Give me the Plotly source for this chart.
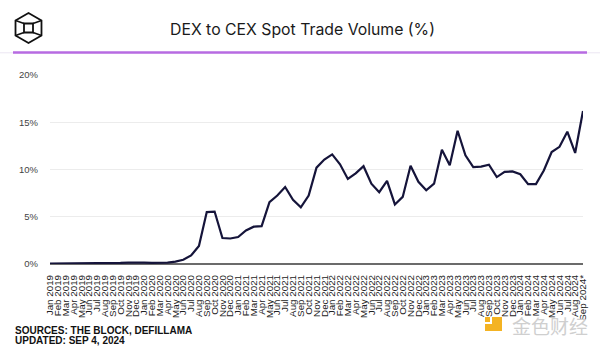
import math
import plotly.graph_objects as go

months = ["Jan", "Feb", "Mar", "Apr", "May", "Jun", "Jul", "Aug", "Sep", "Oct", "Nov", "Dec"]
labels = [f"{m} {y}" for y in range(2019, 2025) for m in months][:69]
labels[-1] = "Sep 2024*"

dex_cex_pct = [
    0.05, 0.05, 0.06, 0.07, 0.08, 0.08, 0.08, 0.09, 0.10, 0.12, 0.15, 0.17,   # 2019
    0.14, 0.12, 0.13, 0.15, 0.25, 0.45, 0.90, 1.90, 5.50, 5.55, 2.75, 2.70,   # 2020
    2.85, 3.55, 3.95, 4.00, 6.55, 7.25, 8.15, 6.80, 6.00, 7.25, 10.2, 11.05,  # 2021
    11.6, 10.55, 9.00, 9.60, 10.35, 8.50, 7.60, 8.80, 6.30, 7.10, 10.4, 8.70, # 2022
    7.80, 8.50, 12.1, 10.45, 14.1, 11.5, 10.25, 10.3, 10.5, 9.20, 9.75, 9.80, # 2023
    9.50, 8.45, 8.45, 9.90, 11.85, 12.4, 14.0, 11.75, 16.2,                   # 2024
]

y_ticks = [0, 5, 10, 15, 20]
y_tick_text = ["0%", "5%", "10%", "15%", "20%"]

W, H = 600, 350
L, R, T, B = 50, 17, 75, 86
pw, ph = W - L - R, H - T - B

def px(x):
    return (x - L) / pw

def py(y):
    return (H - B - y) / ph

fig = go.Figure()
fig.add_trace(go.Scatter(
    x=labels, y=dex_cex_pct, mode="lines",
    line=dict(color="#15143a", width=2.2),
    hoverinfo="skip",
))

shapes = []
# thin grey rule and purple header rule
shapes.append(dict(type="line", xref="paper", yref="paper", x0=px(0), x1=px(600), y0=py(52.8), y1=py(52.8),
                   line=dict(color="#ece6f2", width=1)))
shapes.append(dict(type="line", xref="paper", yref="paper", x0=px(13), x1=px(587), y0=py(52.5), y1=py(52.5),
                   line=dict(color="#b76be2", width=2.5)))

# logo: hexagon cube
cx, cy, r = 28.5, 28, 15
def hexpts(cx, cy, r):
    return [(cx + r * math.sin(math.radians(a)), cy - r * math.cos(math.radians(a))) for a in range(0, 360, 60)]
outer = hexpts(cx, cy, r)
path = "M " + " L ".join(f"{px(x):.5f},{py(y):.5f}" for x, y in outer) + " Z"
shapes.append(dict(type="path", xref="paper", yref="paper", path=path, line=dict(color="#111111", width=1.8)))
inner = [(cx - 4.5, cy - 4.5), (cx + 4.5, cy - 4.5), (cx + 4.5, cy + 4.5), (cx - 4.5, cy + 4.5)]
path2 = "M " + " L ".join(f"{px(x):.5f},{py(y):.5f}" for x, y in inner) + " Z"
shapes.append(dict(type="path", xref="paper", yref="paper", path=path2, line=dict(color="#111111", width=1.8)))
for (ox, oy), (ix, iy) in zip([outer[5], outer[1], outer[2], outer[4]], inner):
    shapes.append(dict(type="line", xref="paper", yref="paper", x0=px(ox), y0=py(oy), x1=px(ix), y1=py(iy),
                       line=dict(color="#111111", width=1.6)))
# watermark icon
shapes.append(dict(type="rect", xref="paper", yref="paper", x0=px(492), x1=px(502), y0=py(331), y1=py(317),
                   fillcolor="#f4b323", line=dict(width=0)))
shapes.append(dict(type="rect", xref="paper", yref="paper", x0=px(485), x1=px(492), y0=py(331), y1=py(324),
                   fillcolor="#f4b323", line=dict(width=0)))
shapes.append(dict(type="rect", xref="paper", yref="paper", x0=px(485), x1=px(490), y0=py(322), y1=py(317),
                   fillcolor="#f4b323", line=dict(width=0)))

annotations = [
    dict(text="DEX to CEX Spot Trade Volume (%)", xref="paper", yref="paper", x=px(302.5), y=py(29.5),
         showarrow=False, xanchor="center", yanchor="middle",
         font=dict(family="Inter, Liberation Sans, sans-serif", size=15.8, color="#1a1a1a")),
    dict(text="<b>SOURCES: THE BLOCK, DEFILLAMA</b>", xref="paper", yref="paper", x=px(13), y=py(330.5),
         showarrow=False, xanchor="left", yanchor="middle",
         font=dict(family="Liberation Sans, Arial, sans-serif", size=10, color="#111111")),
    dict(text="<b>UPDATED: SEP 4, 2024</b>", xref="paper", yref="paper", x=px(13), y=py(340.5),
         showarrow=False, xanchor="left", yanchor="middle",
         font=dict(family="Liberation Sans, Arial, sans-serif", size=10, color="#111111")),
    dict(text="金色财经", xref="paper", yref="paper", x=px(550), y=py(325),
         showarrow=False, xanchor="center", yanchor="middle",
         font=dict(family="Noto Sans CJK SC", size=19, color="#cfcfcf")),
]

fig.update_layout(
    width=W, height=H,
    margin=dict(l=L, r=R, t=T, b=B),
    paper_bgcolor="white", plot_bgcolor="white",
    showlegend=False,
    shapes=shapes, annotations=annotations,
    xaxis=dict(
        type="category", range=[0, len(labels) - 1],
        tickmode="array", tickvals=labels, ticktext=labels,
        tickangle=-90, tickfont=dict(family="Liberation Sans, Arial, sans-serif", size=9.8, color="#222222"),
        ticklabelstandoff=8,
        showgrid=False, showline=False, ticks="", zeroline=False,
    ),
    yaxis=dict(
        range=[0, 20], tickvals=y_ticks, ticktext=y_tick_text,
        tickfont=dict(family="Liberation Sans, Arial, sans-serif", size=9.5, color="#444444"),
        ticklabelstandoff=11,
        showgrid=True, gridcolor="#ececec", gridwidth=1,
        zeroline=True, zerolinecolor="#6b6b6b", zerolinewidth=1.5,
        ticks="", ticklen=0, showline=False,
    ),
)

fig.write_html("out.html")
